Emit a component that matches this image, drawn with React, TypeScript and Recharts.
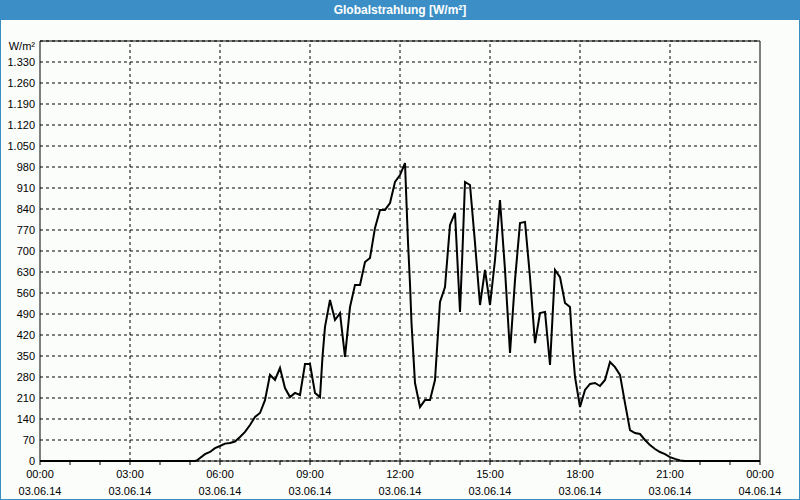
import { LineChart, Line, XAxis, YAxis, CartesianGrid, ReferenceLine } from "recharts";

// minutes since 03.06.14 00:00
const minutes = [
  0, 310, 315, 320, 330, 340, 350, 360, 370, 380, 390, 400, 410, 420, 430, 440, 450, 460, 470, 480,
  490, 500, 510, 520, 530, 540, 550, 560, 565, 570, 580, 590, 600, 610, 620, 630, 640, 650, 660, 670,
  680, 690, 700, 710, 720, 730, 733, 736, 740, 743, 750, 760, 770, 780, 790, 800, 810, 820, 830, 840,
  845, 850, 860, 870, 880, 890, 900, 910, 920, 930, 940, 950, 960, 970, 980, 990, 1000, 1010, 1020, 1030,
  1040, 1050, 1060, 1065, 1070, 1080, 1090, 1100, 1110, 1120, 1130, 1140, 1150, 1160, 1170, 1180, 1190, 1200, 1210, 1220,
  1230, 1240, 1250, 1260, 1270, 1280, 1290, 1440,
];

// W/m²
const radiation = [
  0, 0, 3, 10, 23, 30, 43, 50, 58, 60, 65, 80, 97, 120, 147, 160, 203, 287, 270, 310,
  243, 213, 227, 220, 323, 323, 227, 213, 347, 447, 537, 470, 493, 347, 513, 587, 587, 663, 677, 777,
  837, 837, 860, 930, 953, 993, 860, 730, 590, 460, 260, 180, 203, 203, 270, 530, 580, 787, 827, 497,
  703, 930, 920, 727, 520, 637, 520, 670, 870, 637, 360, 603, 793, 797, 613, 393, 493, 497, 320, 637,
  613, 527, 513, 380, 280, 180, 237, 257, 260, 250, 270, 330, 313, 287, 193, 103, 93, 90, 70, 53,
  40, 30, 23, 13, 7, 2, 0, 0,
];

const xTicks = [0, 60, 120, 180, 240, 300, 360, 420, 480, 540, 600, 660, 720, 780, 840, 900, 960, 1020, 1080, 1140, 1200, 1260, 1320, 1380, 1440];
const xGrid = [180, 360, 540, 720, 900, 1080, 1260];
const timeLabels = ["00:00", "03:00", "06:00", "09:00", "12:00", "15:00", "18:00", "21:00", "00:00"];
const dateLabels = ["03.06.14", "03.06.14", "03.06.14", "03.06.14", "03.06.14", "03.06.14", "03.06.14", "03.06.14", "04.06.14"];

const yTicks = [0, 70, 140, 210, 280, 350, 420, 490, 560, 630, 700, 770, 840, 910, 980, 1050, 1120, 1190, 1260, 1330, 1400];

const data = minutes.map((m, i) => ({ t: m, v: radiation[i] }));

const FONT = "'Liberation Sans', Arial, sans-serif";
const BLUE = "#3b8fc6";

function fmtDe(n: number) {
  const s = String(n);
  return n >= 1000 ? s.slice(0, s.length - 3) + "." + s.slice(-3) : s;
}

const XTick = (props: any) => {
  const { x, y, payload } = props;
  const v = payload.value as number;
  if (v % 180 !== 0) return null;
  const idx = v / 180;
  return (
    <text x={x} y={y} textAnchor="middle" fontSize={11} fontFamily={FONT} fill="#000">
      <tspan x={x} dy={13}>{timeLabels[idx]}</tspan>
      <tspan x={x} dy={17}>{dateLabels[idx]}</tspan>
    </text>
  );
};

const YTick = (props: any) => {
  const { x, y, payload } = props;
  const v = payload.value as number;
  return (
    <text x={x} y={v === 1400 ? y + 5 : y} dy="0.355em" textAnchor="end" fontSize={11} fontFamily={FONT} fill="#000">
      {v === 1400 ? "W/m²" : fmtDe(v)}
    </text>
  );
};

export default function App() {
  return (
    <div style={{ position: "fixed", left: 0, top: 0, width: 800, height: 500, background: "#fbfdfb", overflow: "hidden" }}>
      <div style={{ position: "absolute", left: 0, top: 0 }}>
        <LineChart width={800} height={500} data={data} margin={{ top: 41, right: 40, bottom: 1, left: 0 }}>
          <CartesianGrid vertical={false} stroke="#000" strokeDasharray="3 3" />
          {xGrid.map((g) => (
            <ReferenceLine key={g} x={g} stroke="#000" strokeDasharray="3 3" />
          ))}
          <ReferenceLine y={1400} stroke="#000" />
          <ReferenceLine x={1440} stroke="#000" />
          <XAxis
            type="number"
            dataKey="t"
            domain={[0, 1440]}
            ticks={xTicks}
            interval={0}
            height={38}
            tickSize={4}
            tickMargin={0}
            stroke="#000"
            tick={<XTick />}
          />
          <YAxis
            type="number"
            domain={[0, 1400]}
            ticks={yTicks}
            interval={0}
            width={40}
            tickLine={false}
            tickSize={0}
            tickMargin={5}
            stroke="#000"
            tick={<YTick />}
          />
          <Line type="linear" dataKey="v" stroke="#000" strokeWidth={2} dot={false} isAnimationActive={false} />
        </LineChart>
      </div>
      <div
        style={{
          position: "absolute",
          left: 0,
          top: 0,
          width: 800,
          height: 20,
          background: BLUE,
          color: "#fff",
          fontFamily: FONT,
          fontWeight: "bold",
          fontSize: 12,
          lineHeight: "20px",
          textAlign: "center",
        }}
      >
        Globalstrahlung [W/m²]
      </div>
      <div
        style={{
          position: "absolute",
          left: 0,
          top: 0,
          width: 800,
          height: 500,
          boxSizing: "border-box",
          border: `1px solid ${BLUE}`,
          pointerEvents: "none",
        }}
      />
    </div>
  );
}
